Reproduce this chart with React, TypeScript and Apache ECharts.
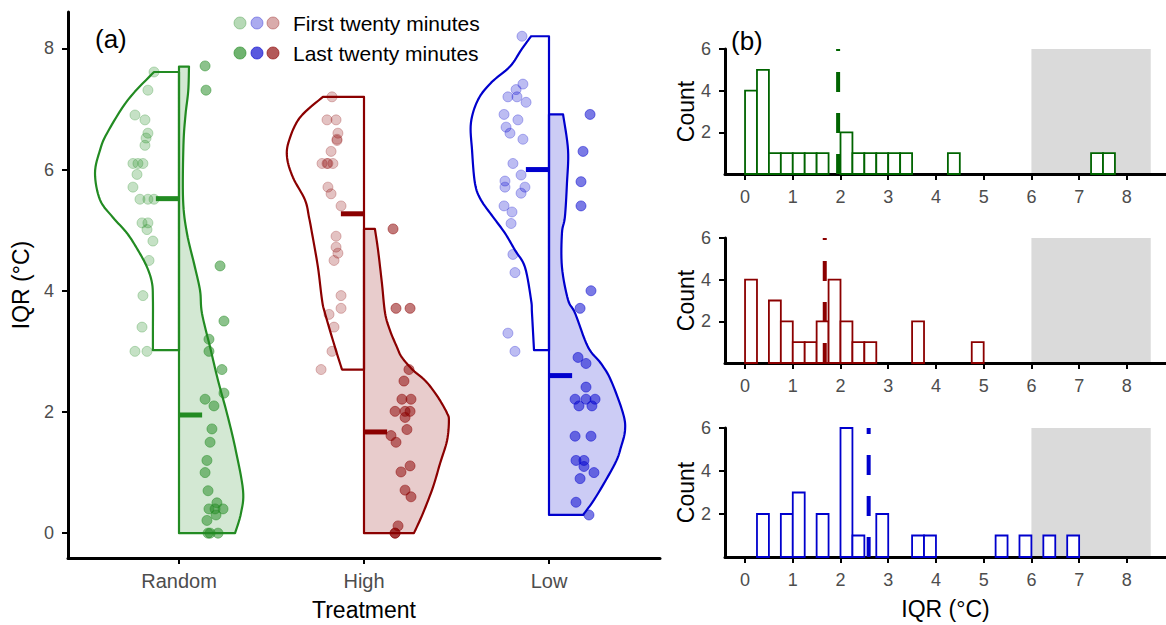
import React, { useEffect, useRef } from 'react';
import * as echarts from 'echarts';

const FONT = '"Liberation Sans", Arial, sans-serif';

// ---------- data ----------
const treatments = ['Random', 'High', 'Low'];
const categoryPositions = [1, 2, 3];
const colors = ['#228B22', '#8B0000', '#0000CD'];
const histColors = ['#006400', '#8B0000', '#0000CD'];
const rgb = ['34,139,34', '139,0,0', '0,0,205'];

// half-violin profiles: [IQR value, half width in category units], top to bottom
const randomFirstProfile = [[7.61, 0.135], [7.15, 0.276], [6.6, 0.389], [6.32, 0.427], [5.94, 0.454], [5.5, 0.427], [5.21, 0.357], [4.95, 0.281], [4.67, 0.222], [4.39, 0.173], [4.13, 0.146], [3.85, 0.141], [3.35, 0.141], [3.02, 0.141]];
const randomLastProfile = [[7.7, 0.054], [7.3, 0.05], [6.9, 0.035], [6.4, 0.024], [5.5, 0.022], [4.95, 0.043], [4.39, 0.086], [4.0, 0.114], [3.63, 0.124], [3.07, 0.168], [2.52, 0.211], [1.98, 0.259], [1.42, 0.303], [0.71, 0.346], [0.33, 0.335], [0, 0.303]];
const highFirstProfile = [[7.2, 0.222], [6.86, 0.346], [6.48, 0.405], [6.2, 0.416], [5.87, 0.384], [5.5, 0.319], [5.21, 0.297], [4.95, 0.281], [4.39, 0.249], [3.85, 0.227], [3.63, 0.211], [3.07, 0.157], [2.7, 0.119]];
const highLastProfile = [[5.02, 0.059], [4.67, 0.076], [4.12, 0.097], [3.63, 0.114], [3.35, 0.14], [3.07, 0.178], [2.9, 0.205], [2.69, 0.265], [2.52, 0.33], [2.36, 0.373], [2.19, 0.411], [1.98, 0.449], [1.86, 0.459], [1.53, 0.449], [1.15, 0.411], [0.76, 0.373], [0.33, 0.319], [0, 0.27]];
const lowFirstProfile = [[8.2, 0.097], [7.97, 0.151], [7.7, 0.211], [7.43, 0.314], [7.15, 0.384], [6.77, 0.422], [6.32, 0.416], [5.77, 0.4], [5.5, 0.368], [5.22, 0.303], [4.95, 0.238], [4.67, 0.184], [4.39, 0.13], [3.85, 0.097], [3.63, 0.092], [3.02, 0.081]];
const lowLastProfile = [[6.91, 0.076], [6.32, 0.103], [5.77, 0.097], [5.22, 0.086], [4.95, 0.07], [4.39, 0.07], [3.85, 0.103], [3.63, 0.141], [3.07, 0.211], [2.8, 0.281], [2.52, 0.335], [1.98, 0.4], [1.7, 0.411], [1.42, 0.389], [1.15, 0.357], [0.6, 0.254], [0.3, 0.184]];

// jittered points: [horizontal offset from category, IQR]
const randomFirstPts = [[-0.135, 7.61], [-0.168, 7.31], [-0.238, 6.9], [-0.184, 6.82], [-0.168, 6.6], [-0.178, 6.52], [-0.184, 6.4], [-0.249, 6.1], [-0.222, 6.1], [-0.195, 6.1], [-0.227, 5.92], [-0.249, 5.71], [-0.211, 5.51], [-0.168, 5.51], [-0.135, 5.51], [-0.2, 5.12], [-0.168, 5.12], [-0.173, 5.01], [-0.141, 4.82], [-0.162, 4.5], [-0.195, 3.92], [-0.2, 3.4], [-0.238, 3.0], [-0.173, 3.0]];
const randomLastPts = [[0.141, 7.71], [0.146, 7.31], [0.222, 4.41], [0.243, 3.5], [0.162, 3.2], [0.162, 3.0], [0.232, 2.7], [0.243, 2.31], [0.141, 2.21], [0.189, 2.1], [0.178, 1.72], [0.168, 1.5], [0.151, 1.2], [0.141, 1.0], [0.157, 0.7], [0.205, 0.5], [0.162, 0.4], [0.238, 0.4], [0.195, 0.4], [0.2, 0.3], [0.151, 0.21], [0.157, 0], [0.211, 0], [0.168, 0]];
const highFirstPts = [[-0.173, 7.2], [-0.2, 6.82], [-0.151, 6.82], [-0.141, 6.6], [-0.146, 6.5], [-0.146, 6.48], [-0.178, 6.3], [-0.227, 6.1], [-0.2, 6.1], [-0.195, 6.1], [-0.168, 6.1], [-0.195, 5.71], [-0.178, 5.6], [-0.124, 5.4], [-0.151, 4.9], [-0.151, 4.72], [-0.141, 4.62], [-0.162, 4.5], [-0.124, 3.92], [-0.124, 3.71], [-0.189, 3.61], [-0.162, 3.4], [-0.173, 3.0], [-0.232, 2.7]];
const highLastPts = [[0.157, 5.02], [0.173, 3.71], [0.249, 3.71], [0.243, 2.7], [0.216, 2.51], [0.205, 2.21], [0.254, 2.21], [0.168, 2.01], [0.222, 2.01], [0.249, 2.01], [0.222, 1.91], [0.232, 1.71], [0.146, 1.61], [0.173, 1.5], [0.249, 1.11], [0.2, 1.01], [0.222, 0.71], [0.254, 0.6], [0.184, 0.12], [0.168, 0.0], [0.168, 0.0]];
const lowFirstPts = [[-0.146, 8.2], [-0.141, 7.41], [-0.178, 7.32], [-0.222, 7.2], [-0.173, 7.2], [-0.124, 7.11], [-0.243, 6.91], [-0.168, 6.82], [-0.232, 6.7], [-0.211, 6.6], [-0.141, 6.5], [-0.195, 6.1], [-0.151, 5.91], [-0.238, 5.81], [-0.238, 5.71], [-0.13, 5.71], [-0.151, 5.61], [-0.243, 5.4], [-0.2, 5.3], [-0.205, 5.11], [-0.195, 4.6], [-0.184, 4.3], [-0.222, 3.3], [-0.184, 3.0]];
const lowLastPts = [[0.222, 6.91], [0.184, 6.3], [0.173, 5.8], [0.173, 5.4], [0.227, 4.0], [0.168, 3.71], [0.157, 2.9], [0.2, 2.8], [0.2, 2.41], [0.141, 2.21], [0.2, 2.21], [0.249, 2.21], [0.162, 2.1], [0.232, 2.1], [0.141, 1.6], [0.227, 1.6], [0.146, 1.2], [0.189, 1.2], [0.189, 1.1], [0.243, 1.0], [0.168, 0.9], [0.146, 0.51], [0.216, 0.3]];

// mean IQR marks in panel (a)
const firstMeans = [5.52, 5.27, 6.0];
const lastMeans = [1.95, 1.67, 2.6];

// histograms of last-twenty-minute IQR: [bin start, count]
const binWidth = 0.25;
const randomBins = [[0, 4], [0.25, 5], [0.5, 1], [0.75, 1], [1.0, 1], [1.25, 1], [1.5, 1], [2.0, 2], [2.25, 1], [2.5, 1], [2.75, 1], [3.0, 1], [3.25, 1], [4.25, 1], [7.25, 1], [7.5, 1]];
const highBins = [[0, 4], [0.5, 3], [0.75, 2], [1.0, 1], [1.25, 1], [1.5, 2], [1.75, 4], [2.0, 2], [2.25, 1], [2.5, 1], [3.5, 2], [4.75, 1]];
const lowBins = [[0.25, 2], [0.75, 2], [1.0, 3], [1.5, 2], [2.0, 6], [2.25, 1], [2.75, 2], [3.5, 1], [3.75, 1], [5.25, 1], [5.75, 1], [6.25, 1], [6.75, 1]];
const histMeans = [1.95, 1.67, 2.59];
const shadedRange = [6, 8.5];

const leftYTicks = [0, 2, 4, 6, 8];
const rightXTicks = [0, 1, 2, 3, 4, 5, 6, 7, 8];
const countTicks = [2, 4, 6];

// ---------- helpers ----------
function smoothPts(pts: number[][], steps: number) {
  const out: number[][] = [];
  const n = pts.length;
  for (let i = 0; i < n - 1; i++) {
    const p0 = pts[Math.max(0, i - 1)];
    const p1 = pts[i];
    const p2 = pts[i + 1];
    const p3 = pts[Math.min(n - 1, i + 2)];
    for (let s = 0; s < steps; s++) {
      const t = s / steps;
      const t2 = t * t, t3 = t2 * t;
      const f = (a: number, b: number, c: number, d: number) =>
        0.5 * (2 * b + (-a + c) * t + (2 * a - 5 * b + 4 * c - d) * t2 + (-a + 3 * b - 3 * c + d) * t3);
      out.push([f(p0[0], p1[0], p2[0], p3[0]), f(p0[1], p1[1], p2[1], p3[1])]);
    }
  }
  out.push(pts[n - 1]);
  return out;
}

const violins = [
  { center: categoryPositions[0], side: -1, profile: randomFirstProfile, color: colors[0], fill: 'rgba(255,255,255,0)' },
  { center: categoryPositions[0], side: 1, profile: randomLastProfile, color: colors[0], fill: `rgba(${rgb[0]},0.2)` },
  { center: categoryPositions[1], side: -1, profile: highFirstProfile, color: colors[1], fill: 'rgba(255,255,255,0)' },
  { center: categoryPositions[1], side: 1, profile: highLastProfile, color: colors[1], fill: `rgba(${rgb[1]},0.2)` },
  { center: categoryPositions[2], side: -1, profile: lowFirstProfile, color: colors[2], fill: 'rgba(255,255,255,0)' },
  { center: categoryPositions[2], side: 1, profile: lowLastProfile, color: colors[2], fill: `rgba(${rgb[2]},0.2)` },
];

const pointGroups = [
  { pts: randomFirstPts, c: 0, alpha: 0.33 },
  { pts: randomLastPts, c: 0, alpha: 0.65 },
  { pts: highFirstPts, c: 1, alpha: 0.3 },
  { pts: highLastPts, c: 1, alpha: 0.65 },
  { pts: lowFirstPts, c: 2, alpha: 0.33 },
  { pts: lowLastPts, c: 2, alpha: 0.65 },
];

const medianMarks = [
  ...firstMeans.map((m, i) => [categoryPositions[i], m, -1, i]),
  ...lastMeans.map((m, i) => [categoryPositions[i], m, 1, i]),
];

const histList = [randomBins, highBins, lowBins];

const axisLineStyle = { onZero: false, lineStyle: { color: '#000', width: 3 } };
const tickStyle = { length: 6, lineStyle: { color: '#000', width: 2 } };
const labelStyle = { color: '#4D4D4D', fontFamily: FONT, fontSize: 18 };

function buildOption() {
  const grids = [
    { left: 68, top: 12, width: 592, height: 546 },
    { left: 725, top: 49, width: 441, height: 125 },
    { left: 725, top: 238, width: 441, height: 125 },
    { left: 725, top: 428, width: 441, height: 129 },
  ].map((g) => ({ ...g, containLabel: false, outerBoundsMode: 'none' }));

  const xAxes: any[] = [
    {
      type: 'value', gridIndex: 0, min: 0.4, max: 3.6,
      axisLine: axisLineStyle,
      axisTick: { ...tickStyle, customValues: categoryPositions },
      axisLabel: { ...labelStyle, fontSize: 20, margin: 13, customValues: categoryPositions, formatter: (v: number) => treatments[Math.round(v) - 1] },
      splitLine: { show: false },
      name: 'Treatment', nameLocation: 'middle', nameGap: 40,
      nameTextStyle: { color: '#000', fontFamily: FONT, fontSize: 23 },
    },
  ];
  const yAxes: any[] = [
    {
      type: 'value', gridIndex: 0, min: -0.41, max: 8.6,
      axisLine: axisLineStyle,
      axisTick: { ...tickStyle, customValues: leftYTicks },
      axisLabel: { ...labelStyle, margin: 14, customValues: leftYTicks },
      splitLine: { show: false },
      name: 'IQR (°C)', nameLocation: 'middle', nameGap: 36,
      nameTextStyle: { color: '#000', fontFamily: FONT, fontSize: 23 },
    },
  ];
  for (let i = 1; i <= 3; i++) {
    xAxes.push({
      type: 'value', gridIndex: i, min: -0.42, max: 8.82,
      axisLine: axisLineStyle,
      axisTick: { ...tickStyle, customValues: rightXTicks },
      axisLabel: { ...labelStyle, margin: 14, customValues: rightXTicks },
      splitLine: { show: false },
      ...(i === 3 ? { name: 'IQR (°C)', nameLocation: 'middle', nameGap: 40, nameTextStyle: { color: '#000', fontFamily: FONT, fontSize: 23 } } : {}),
    });
    yAxes.push({
      type: 'value', gridIndex: i, min: 0, max: 6,
      axisLine: axisLineStyle,
      axisTick: { ...tickStyle, customValues: countTicks },
      axisLabel: { ...labelStyle, margin: 14, customValues: countTicks },
      splitLine: { show: false },
      name: 'Count', nameLocation: 'middle', nameGap: 24,
      nameTextStyle: { color: '#000', fontFamily: FONT, fontSize: 23 },
    });
  }

  const series: any[] = [];
  series.push({
    type: 'custom', xAxisIndex: 0, yAxisIndex: 0, z: 1, silent: true,
    data: violins.map((v) => [v.center, v.profile[0][0]]),
    renderItem: (params: any, api: any) => {
      const v = violins[params.dataIndex];
      const pts = v.profile.map(([y, w]) => api.coord([v.center + v.side * w, y]));
      const curve = smoothPts(pts, 8);
      const top = api.coord([v.center, v.profile[0][0]]);
      const bot = api.coord([v.center, v.profile[v.profile.length - 1][0]]);
      return {
        type: 'polygon',
        shape: { points: [top, ...curve, bot] },
        style: { fill: v.fill, stroke: v.color, lineWidth: 2.2, lineJoin: 'round' },
      };
    },
  });
  series.push({
    type: 'custom', xAxisIndex: 0, yAxisIndex: 0, z: 2, silent: true,
    data: medianMarks,
    renderItem: (params: any, api: any) => {
      const c = api.value(0), m = api.value(1), side = api.value(2), ci = api.value(3);
      const a = api.coord([c, m]);
      const b = api.coord([c + side * 0.125, m]);
      return { type: 'line', shape: { x1: a[0], y1: a[1], x2: b[0], y2: b[1] }, style: { stroke: colors[ci], lineWidth: 5 } };
    },
  });
  pointGroups.forEach((g) => {
    const center = categoryPositions[g.c];
    series.push({
      type: 'scatter', xAxisIndex: 0, yAxisIndex: 0, z: 3, silent: true,
      symbol: 'circle', symbolSize: 10,
      itemStyle: { color: `rgba(${rgb[g.c]},${g.alpha})`, borderColor: `rgba(${rgb[g.c]},${Math.min(1, g.alpha + 0.1)})`, borderWidth: 0.8 },
      data: g.pts.map(([o, v]) => [center + o, v]),
    });
  });

  for (let i = 0; i < 3; i++) {
    const ax = i + 1;
    series.push({
      type: 'custom', xAxisIndex: ax, yAxisIndex: ax, z: 0, silent: true,
      data: [[shadedRange[0], shadedRange[1], 6]],
      renderItem: (params: any, api: any) => {
        const p0 = api.coord([api.value(0), 0]);
        const p1 = api.coord([api.value(1), api.value(2)]);
        return { type: 'rect', shape: { x: p0[0], y: p1[1], width: p1[0] - p0[0], height: p0[1] - p1[1] }, style: { fill: '#DADADA' } };
      },
    });
    series.push({
      type: 'custom', xAxisIndex: ax, yAxisIndex: ax, z: 1, silent: true,
      data: histList[i],
      renderItem: (params: any, api: any) => {
        const s = api.value(0), n = api.value(1);
        const p0 = api.coord([s, 0]);
        const p1 = api.coord([s + binWidth, n]);
        return { type: 'rect', shape: { x: p0[0], y: p1[1], width: p1[0] - p0[0], height: p0[1] - p1[1] }, style: { fill: '#fff', stroke: histColors[i], lineWidth: 1.8 } };
      },
    });
    series.push({
      type: 'line', xAxisIndex: ax, yAxisIndex: ax, z: 2, silent: true,
      symbol: 'none',
      lineStyle: { color: histColors[i], width: 4, type: [20, 21], cap: 'butt' },
      data: [[histMeans[i], 0], [histMeans[i], 6]],
    });
  }

  const legendRows = [
    { y: 23, alpha: 0.33, text: 'First twenty minutes' },
    { y: 53, alpha: 0.65, text: 'Last twenty minutes' },
  ];
  const legendOrder = [0, 2, 1];
  const legendX = [240, 257, 273];
  const graphic: any[] = [
    { type: 'text', left: 95, top: 26, style: { text: '(a)', font: `26px ${FONT}`, fill: '#000' } },
    { type: 'text', left: 731, top: 28, style: { text: '(b)', font: `26px ${FONT}`, fill: '#000' } },
  ];
  legendRows.forEach((r) => {
    legendOrder.forEach((c, k) => {
      graphic.push({ type: 'circle', shape: { cx: legendX[k], cy: r.y, r: 6 }, style: { fill: `rgba(${rgb[c]},${r.alpha})`, stroke: `rgba(${rgb[c]},${r.alpha + 0.1})`, lineWidth: 0.8 } });
    });
    graphic.push({ type: 'text', x: 293, y: r.y, style: { text: r.text, font: `21px ${FONT}`, fill: '#000', verticalAlign: 'middle' } });
  });

  return {
    animation: false,
    backgroundColor: '#fff',
    grid: grids,
    xAxis: xAxes,
    yAxis: yAxes,
    series,
    graphic,
  };
}

export default function App() {
  const ref = useRef<HTMLDivElement>(null);
  useEffect(() => {
    document.body.style.margin = '0';
    const chart = echarts.init(ref.current as HTMLDivElement, null, { renderer: 'svg' });
    chart.setOption(buildOption() as any);
    return () => chart.dispose();
  }, []);
  return <div ref={ref} style={{ width: 1166, height: 625 }} />;
}
